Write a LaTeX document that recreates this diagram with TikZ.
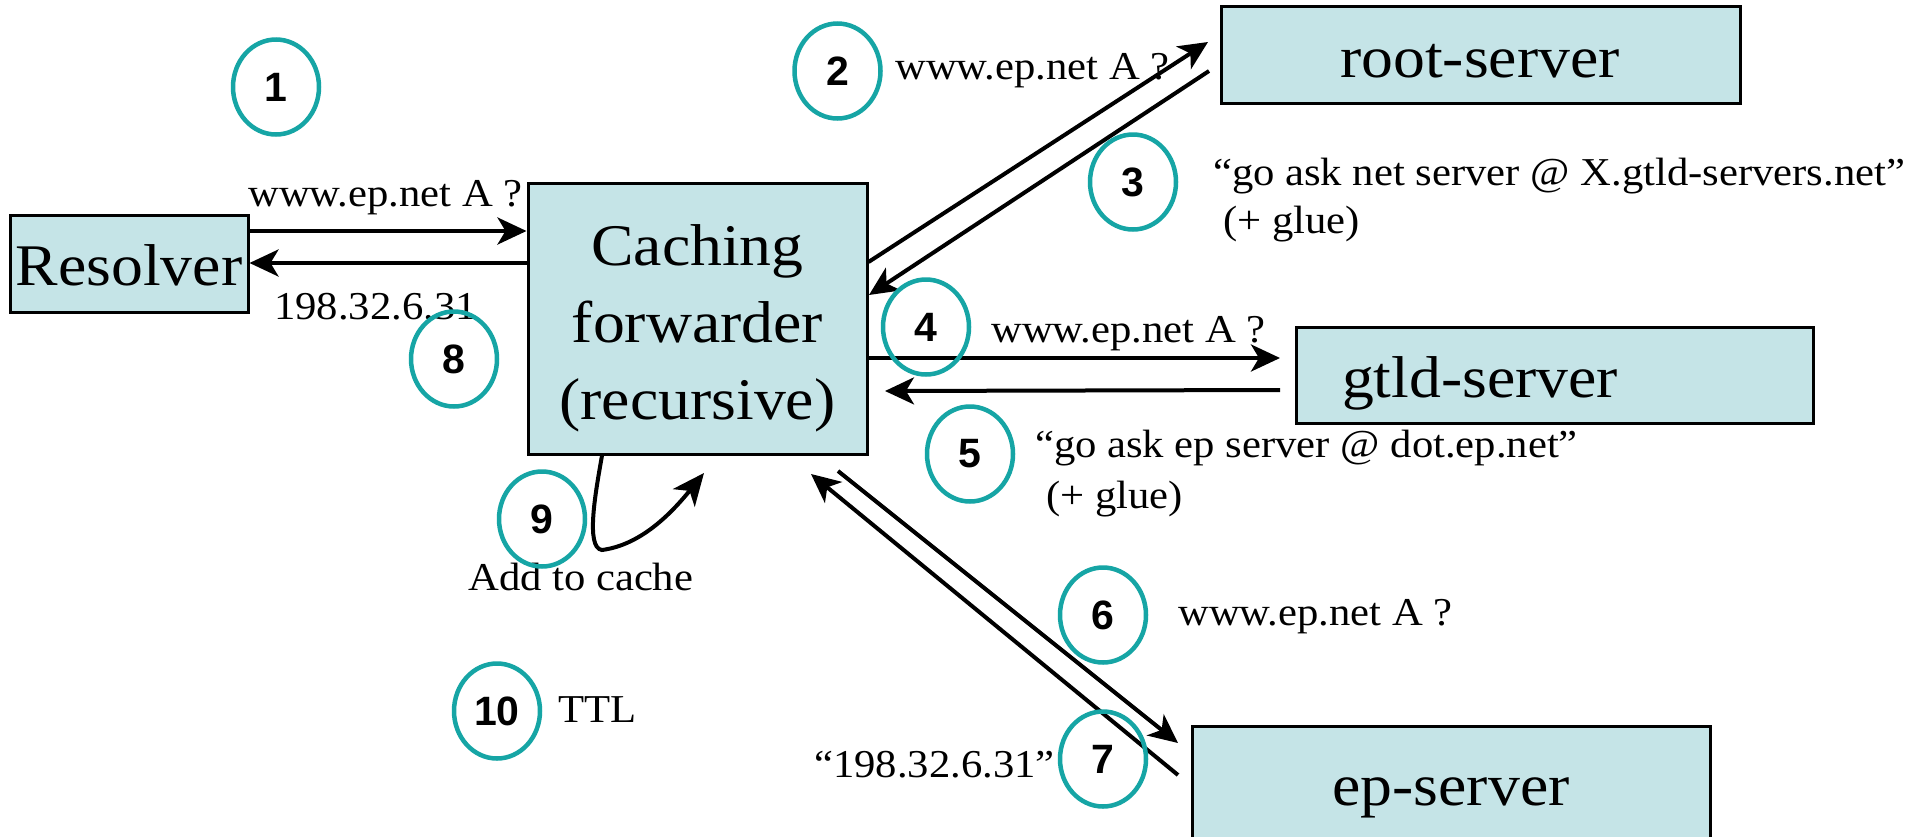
\documentclass[tikz,border=0pt]{standalone}
\usepackage{fontspec}
\setmainfont[FakeStretch=1.08]{Liberation Serif}
\newfontfamily\numfont{Liberation Sans}
\usetikzlibrary{arrows.meta,shapes.geometric}
\definecolor{boxfill}{RGB}{197,228,231}
\definecolor{ringcol}{RGB}{22,165,165}
\begin{document}
\begin{tikzpicture}[x=1pt,y=-1pt,
  box/.style={draw=black, line width=3pt, fill=boxfill, inner sep=0pt},
  big/.style={font=\fontsize{59}{70}\selectfont, inner sep=0pt, anchor=base},
  small/.style={font=\fontsize{39.5}{47}\selectfont, inner sep=0pt, anchor=base west},
  num/.style={ellipse, draw=ringcol, line width=4.5pt, minimum width=86pt, minimum height=95pt,
    inner sep=0pt, font=\numfont\bfseries\fontsize{41}{41}\selectfont},
  arr/.style={line width=4pt, -{Stealth[length=29pt, width=27pt, inset=8pt]}},
  arrsm/.style={line width=4pt, -{Stealth[length=32pt, width=28pt, inset=9pt]}}]
\clip (0,0) rectangle (1923,836);
\fill[white] (0,0) rectangle (1923,836);

% boxes
\node[box, minimum width=238pt, minimum height=97pt] (res) at (129,263.5) {};
\node[box, minimum width=339pt, minimum height=271pt] (cache) at (697.5,318.5) {};
\node[box, minimum width=519pt, minimum height=97pt] (root) at (1480.5,54.5) {};
\node[box, minimum width=517pt, minimum height=96pt] (gtld) at (1554.5,375) {};
\node[box, minimum width=518pt, minimum height=144pt] (ep) at (1451,798) {};

% box texts
\node[big] (tres) at (129,285) {Resolver};
\node[big] (tc1) at (697.5,265) {Caching};
\node[big] (tc2) at (697.5,342) {forwarder};
\node[big] (tc3) at (697.5,419) {(recursive)};
\node[big] (troot) at (1480,77) {root-server};
\node[big] (tgtld) at (1480,397) {gtld-server};
\node[big] (tep) at (1451,805) {ep-server};

% free ends
\coordinate (t2) at (1208,42);
\coordinate (s3) at (1209,71);
\coordinate (t3) at (869,295);
\coordinate (t4) at (1280,358);
\coordinate (s5) at (1280,390);
\coordinate (t5) at (885,391);
\coordinate (s6) at (838,471);
\coordinate (t6) at (1178,743);
\coordinate (s7) at (1178,775);
\coordinate (t7) at (811,474);
\coordinate (t9) at (704,473);

% connectors
\draw[arr] (res.east |- 0,231) -- (cache.west |- 0,231);
\draw[arr] (cache.west |- 0,263) -- (res.east |- 0,263);
\draw[arr] (cache.east |- 0,262) -- (t2);
\draw[arr] (s3) -- (t3);
\draw[arr] (cache.east |- 0,358) -- (t4);
\draw[arr] (s5) -- (t5);
\draw[arr] (s6) -- (t6);
\draw[arr] (s7) -- (t7);
\draw[arrsm] (cache.south -| 602,0) .. controls (596,490) and (585,548) .. (602,550)
  .. controls (640,545) and (670,515) .. (t9);

% labels
\node[small] (l1a) at (248,206) {www.ep.net A ?};
\node[small] (l1b) at (274,319) {198.32.6.31};
\node[small] (l2) at (895,79) {www.ep.net A ?};
\node[small] (l3a) at (1213,185) {“go ask net server @ X.gtld-servers.net”};
\node[small] (l3b) at (1223,233) {(+ glue)};
\node[small] (l4) at (991,342) {www.ep.net A ?};
\node[small] (l5a) at (1035,457) {“go ask ep server @ dot.ep.net”};
\node[small] (l5b) at (1046,508) {(+ glue)};
\node[small] (l6) at (1178,625) {www.ep.net A ?};
\node[small] (l7) at (814,777) {“198.32.6.31”};
\node[small] (l9) at (468,590) {Add to cache};
\node[small] (l10) at (558,722) {TTL};

% numbered rings
\node[num] (c1) at (276,87) {1};
\node[num] (c2) at (837.5,71) {2};
\node[num] (c3) at (1133,182) {3};
\node[num] (c4) at (926,327) {4};
\node[num] (c5) at (970,454) {5};
\node[num] (c6) at (1103,615) {6};
\node[num] (c7) at (1103,759) {7};
\node[num] (c8) at (454,359) {8};
\node[num] (c9) at (542,519) {9};
\node[num] (c10) at (497,711) {10};
\end{tikzpicture}
\end{document}
